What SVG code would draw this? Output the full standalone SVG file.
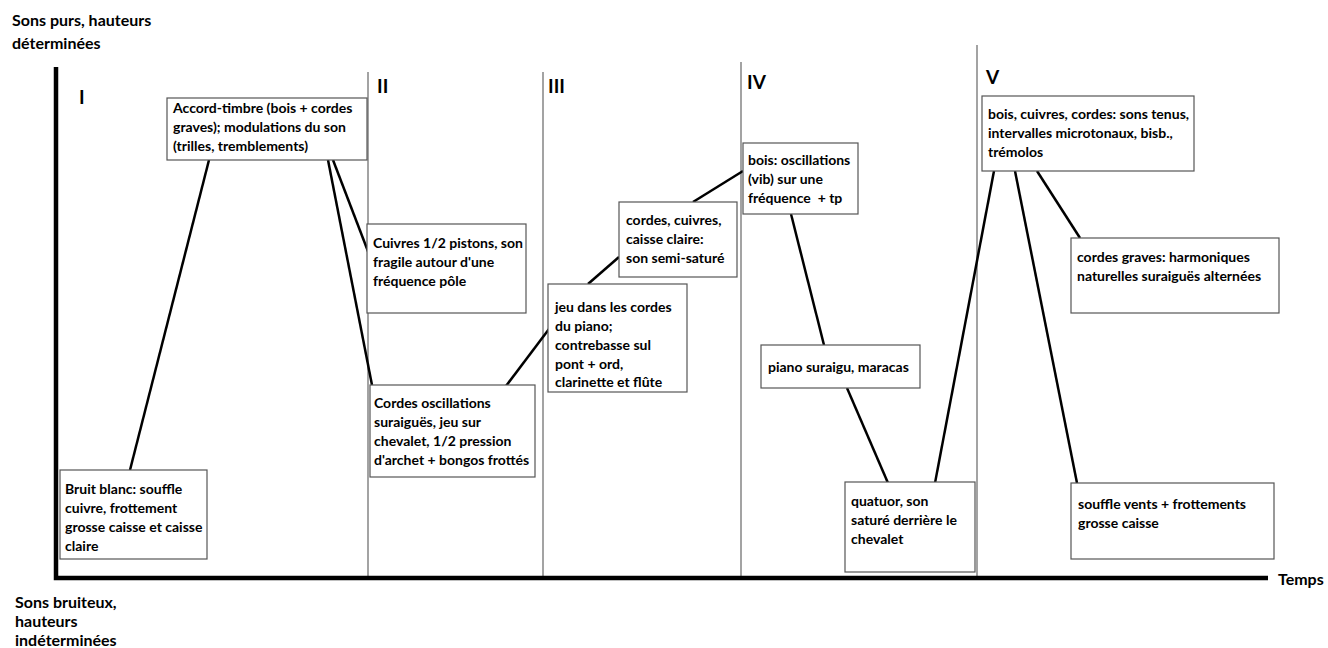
<svg xmlns="http://www.w3.org/2000/svg" width="1328" height="648" viewBox="0 0 1328 648">
<style>
  text { font-family: Lato, "Open Sans", "Liberation Sans", sans-serif; font-weight: bold; font-size: 14px; fill: #000; }
  .axislabel { font-size: 16px; }
  .roman { font-size: 19px; }
  .box { fill: #fff; stroke: #555; stroke-width: 1.2; }
  .sep { stroke: #666; stroke-width: 1.2; }
  .axis { stroke: #000; stroke-width: 4.5; fill: none; }
  .link { stroke: #000; stroke-width: 2.5; }
</style>
<rect width="1328" height="648" fill="#fff"/>

<!-- axis labels -->
<g id="labels">
  <text class="axislabel" x="12" y="26">Sons purs, hauteurs</text>
  <text class="axislabel" x="12" y="49">déterminées</text>
  <text class="axislabel" x="15" y="608">Sons bruiteux,</text>
  <text class="axislabel" x="15" y="627">hauteurs</text>
  <text class="axislabel" x="15" y="646">indéterminées</text>
  <text class="axislabel" x="1278" y="585">Temps</text>
</g>

<!-- section separators -->
<g id="sections">
  <line class="sep" x1="368" y1="72" x2="368" y2="578"/>
  <line class="sep" x1="543" y1="72" x2="543" y2="578"/>
  <line class="sep" x1="741" y1="62" x2="741" y2="578"/>
  <line class="sep" x1="977" y1="45" x2="977" y2="578"/>
  <text class="roman" x="79" y="104">I</text>
  <text class="roman" x="377" y="93">II</text>
  <text class="roman" x="548" y="93">III</text>
  <text class="roman" x="747" y="89">IV</text>
  <text class="roman" x="986" y="84">V</text>
</g>

<!-- axes -->
<g id="axes">
  <polyline class="axis" points="56,67 56,578 1268,578"/>
</g>

<!-- connectors -->
<g id="connectors">
  <line class="link" x1="130" y1="470" x2="209" y2="160"/>
  <line class="link" x1="333" y1="160" x2="369" y2="254"/>
  <line class="link" x1="328" y1="160" x2="372" y2="385"/>
  <line class="link" x1="506" y1="386" x2="549" y2="329"/>
  <line class="link" x1="588" y1="284" x2="619" y2="257"/>
  <line class="link" x1="693" y1="202" x2="743" y2="171"/>
  <line class="link" x1="791" y1="214" x2="824" y2="345"/>
  <line class="link" x1="847" y1="388" x2="888" y2="483"/>
  <line class="link" x1="935" y1="483" x2="994" y2="171"/>
  <line class="link" x1="1015" y1="171" x2="1077" y2="483"/>
  <line class="link" x1="1037" y1="171" x2="1080" y2="238"/>
</g>

<g id="n-bruit">
  <rect class="box" x="60" y="470" width="147" height="89"/>
  <text x="65" y="494">Bruit blanc: souffle</text>
  <text x="65" y="513">cuivre, frottement</text>
  <text x="65" y="532">grosse caisse et caisse</text>
  <text x="65" y="551">claire</text>
</g>
<g id="n-accord">
  <rect class="box" x="167" y="98" width="200" height="62"/>
  <text x="173" y="113">Accord-timbre (bois + cordes</text>
  <text x="173" y="132">graves); modulations du son</text>
  <text x="173" y="151">(trilles, tremblements)</text>
</g>
<g id="n-cuivres">
  <rect class="box" x="367" y="224" width="159" height="89"/>
  <text x="373" y="248">Cuivres 1/2 pistons, son</text>
  <text x="373" y="267">fragile autour d'une</text>
  <text x="373" y="286">fréquence pôle</text>
</g>
<g id="n-cordes-osc">
  <rect class="box" x="370" y="385" width="165" height="92"/>
  <text x="374" y="408">Cordes oscillations</text>
  <text x="374" y="427">suraiguës, jeu sur</text>
  <text x="374" y="446">chevalet, 1/2 pression</text>
  <text x="374" y="465">d'archet + bongos frottés</text>
</g>
<g id="n-jeu">
  <rect class="box" x="548" y="284" width="139" height="108"/>
  <text x="555" y="312">jeu dans les cordes</text>
  <text x="555" y="331">du piano;</text>
  <text x="555" y="350">contrebasse sul</text>
  <text x="555" y="369">pont + ord,</text>
  <text x="555" y="387">clarinette et flûte</text>
</g>
<g id="n-cordes-cuivres">
  <rect class="box" x="619" y="202" width="118" height="75"/>
  <text x="626" y="225">cordes, cuivres,</text>
  <text x="626" y="244">caisse claire:</text>
  <text x="626" y="263">son semi-saturé</text>
</g>
<g id="n-bois">
  <rect class="box" x="743" y="143" width="115" height="71"/>
  <text x="748" y="165">bois: oscillations</text>
  <text x="748" y="184">(vib) sur une</text>
  <text x="748" y="203" xml:space="preserve">fréquence  + tp</text>
</g>
<g id="n-piano">
  <rect class="box" x="761" y="345" width="159" height="43"/>
  <text x="768" y="372">piano suraigu, maracas</text>
</g>
<g id="n-quatuor">
  <rect class="box" x="845" y="482" width="130" height="90"/>
  <text x="851" y="506">quatuor, son</text>
  <text x="851" y="525">saturé derrière le</text>
  <text x="851" y="544">chevalet</text>
</g>
<g id="n-bois-cuivres">
  <rect class="box" x="982" y="96" width="212" height="75"/>
  <text x="988" y="119">bois, cuivres, cordes: sons tenus,</text>
  <text x="988" y="138">intervalles microtonaux, bisb.,</text>
  <text x="988" y="157">trémolos</text>
</g>
<g id="n-cordes-graves">
  <rect class="box" x="1071" y="238" width="208" height="75"/>
  <text x="1077" y="262">cordes graves: harmoniques</text>
  <text x="1077" y="281">naturelles suraiguës alternées</text>
</g>
<g id="n-souffle">
  <rect class="box" x="1071" y="483" width="203" height="76"/>
  <text x="1078" y="509">souffle vents + frottements</text>
  <text x="1078" y="528">grosse caisse</text>
</g>
</svg>
